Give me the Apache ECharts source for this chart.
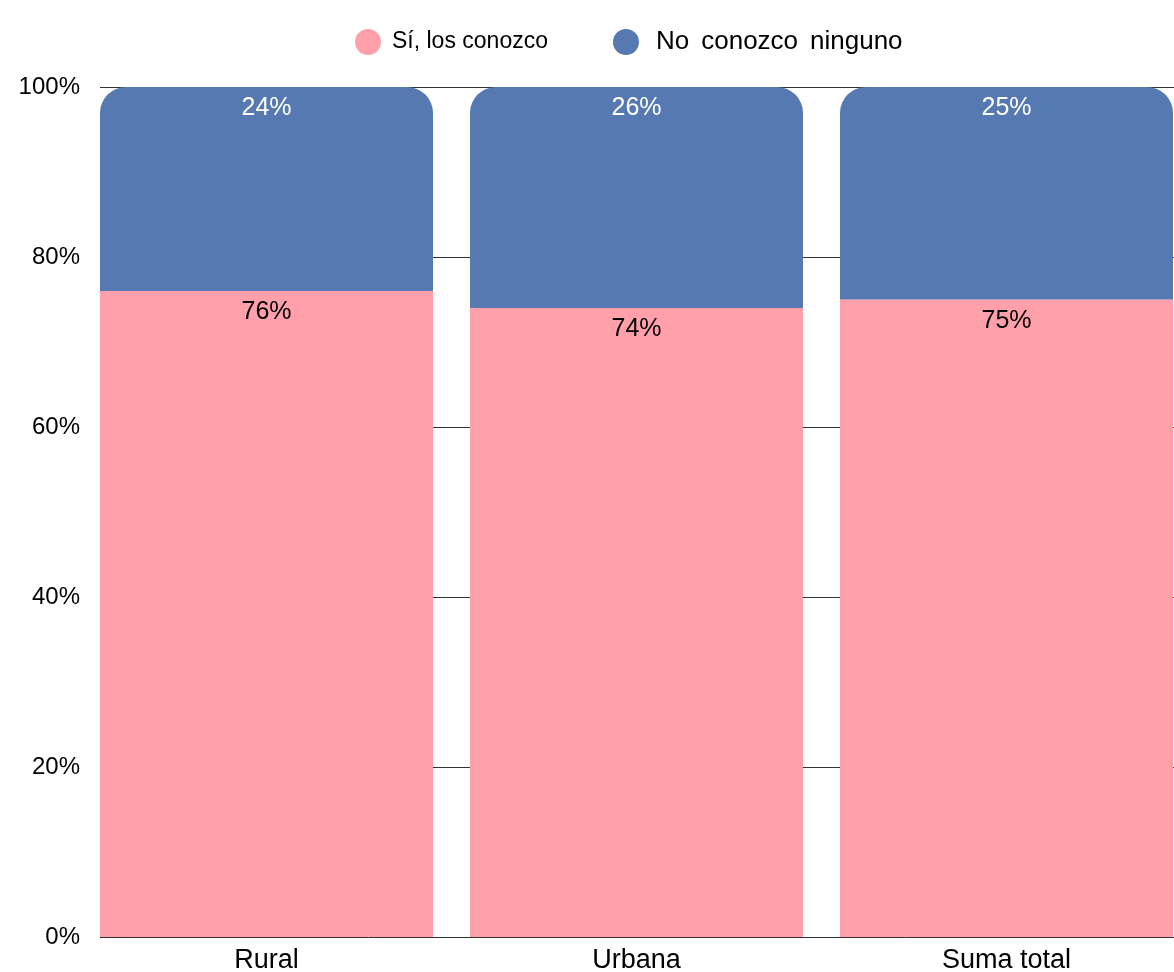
<!DOCTYPE html>
<html>
<head>
<meta charset="utf-8">
<script src="https://cdn.jsdelivr.net/npm/echarts@6/dist/echarts.min.js"></script>
<style>
html,body{margin:0;padding:0;background:#fff;}
#chart{width:1174px;height:972px;}
</style>
</head>
<body>
<div id="chart"></div>
<script>
const categories = ['Rural', 'Urbana', 'Suma total'];
const siValues = [76, 74, 75];
const noValues = [24, 26, 25];
const seriesNames = ['Sí, los conozco', 'No conozco ninguno'];
const yTicks = [0, 20, 40, 60, 80, 100];

const chart = echarts.init(document.getElementById('chart'));
const FONT = 'Liberation Sans, Arial, sans-serif';
const option = {
  animation: false,
  backgroundColor: '#ffffff',
  textStyle: { fontFamily: FONT },
  legend: {
    top: 24,
    left: 350,
    itemWidth: 26,
    itemHeight: 26,
    itemGap: 65,
    icon: 'circle',
    formatter: function (name) {
      if (name === seriesNames[1]) {
        return '{p|}' + name.split(' ').map(function (w) { return '{b|' + w + '}'; }).join('{s| }');
      }
      return '{a|' + name + '}';
    },
    textStyle: {
      fontSize: 23, color: '#000', fontFamily: FONT, padding: [0, 0, 0, 6],
      rich: {
        a: { fontSize: 23, color: '#000', fontFamily: FONT },
        b: { fontSize: 26, color: '#000', fontFamily: FONT },
        s: { fontSize: 26, width: 12, fontFamily: FONT },
        p: { fontSize: 26, width: 6, fontFamily: FONT }
      }
    },
    data: seriesNames
  },
  grid: [
    { left: 81.5, top: 87, bottom: 35, right: -17.5, containLabel: false, outerBoundsMode: 'none' },
    { left: 100, top: 87, bottom: 35, right: 0, containLabel: false, outerBoundsMode: 'none' }
  ],
  xAxis: [
    {
      type: 'category', gridIndex: 0, data: categories,
      axisLine: { show: false }, axisTick: { show: false },
      axisLabel: { fontSize: 27, color: '#000', margin: 10, fontFamily: FONT }
    },
    { type: 'value', gridIndex: 1, show: false, min: 0, max: 1 }
  ],
  yAxis: [
    {
      type: 'value', gridIndex: 0, min: yTicks[0], max: yTicks[yTicks.length - 1], interval: 20,
      splitLine: { show: false }, axisLine: { show: false }, axisTick: { show: false },
      axisLabel: { fontSize: 24, color: '#000', margin: 1.5, formatter: '{value}%', fontFamily: FONT }
    },
    {
      type: 'value', gridIndex: 1, min: yTicks[0], max: yTicks[yTicks.length - 1], interval: 20,
      axisLine: { show: false }, axisTick: { show: false }, axisLabel: { show: false },
      splitLine: { show: true, lineStyle: { color: '#333333', width: 1 } }
    }
  ],
  series: [
    {
      name: seriesNames[0], type: 'bar', stack: 'a', xAxisIndex: 0, yAxisIndex: 0,
      data: siValues, barCategoryGap: '10%',
      itemStyle: { color: '#FFA0AA' },
      label: { show: true, position: 'insideTop', distance: 9, formatter: '{c}%', color: '#000', fontSize: 25, fontFamily: FONT }
    },
    {
      name: seriesNames[1], type: 'bar', stack: 'a', xAxisIndex: 0, yAxisIndex: 0,
      data: noValues, barCategoryGap: '10%',
      itemStyle: { color: '#5579B0', borderRadius: [26, 26, 0, 0] },
      label: { show: true, position: 'insideTop', distance: 9, formatter: '{c}%', color: '#fff', fontSize: 25, fontFamily: FONT }
    }
  ]
};
chart.setOption(option);
</script>
</body>
</html>
